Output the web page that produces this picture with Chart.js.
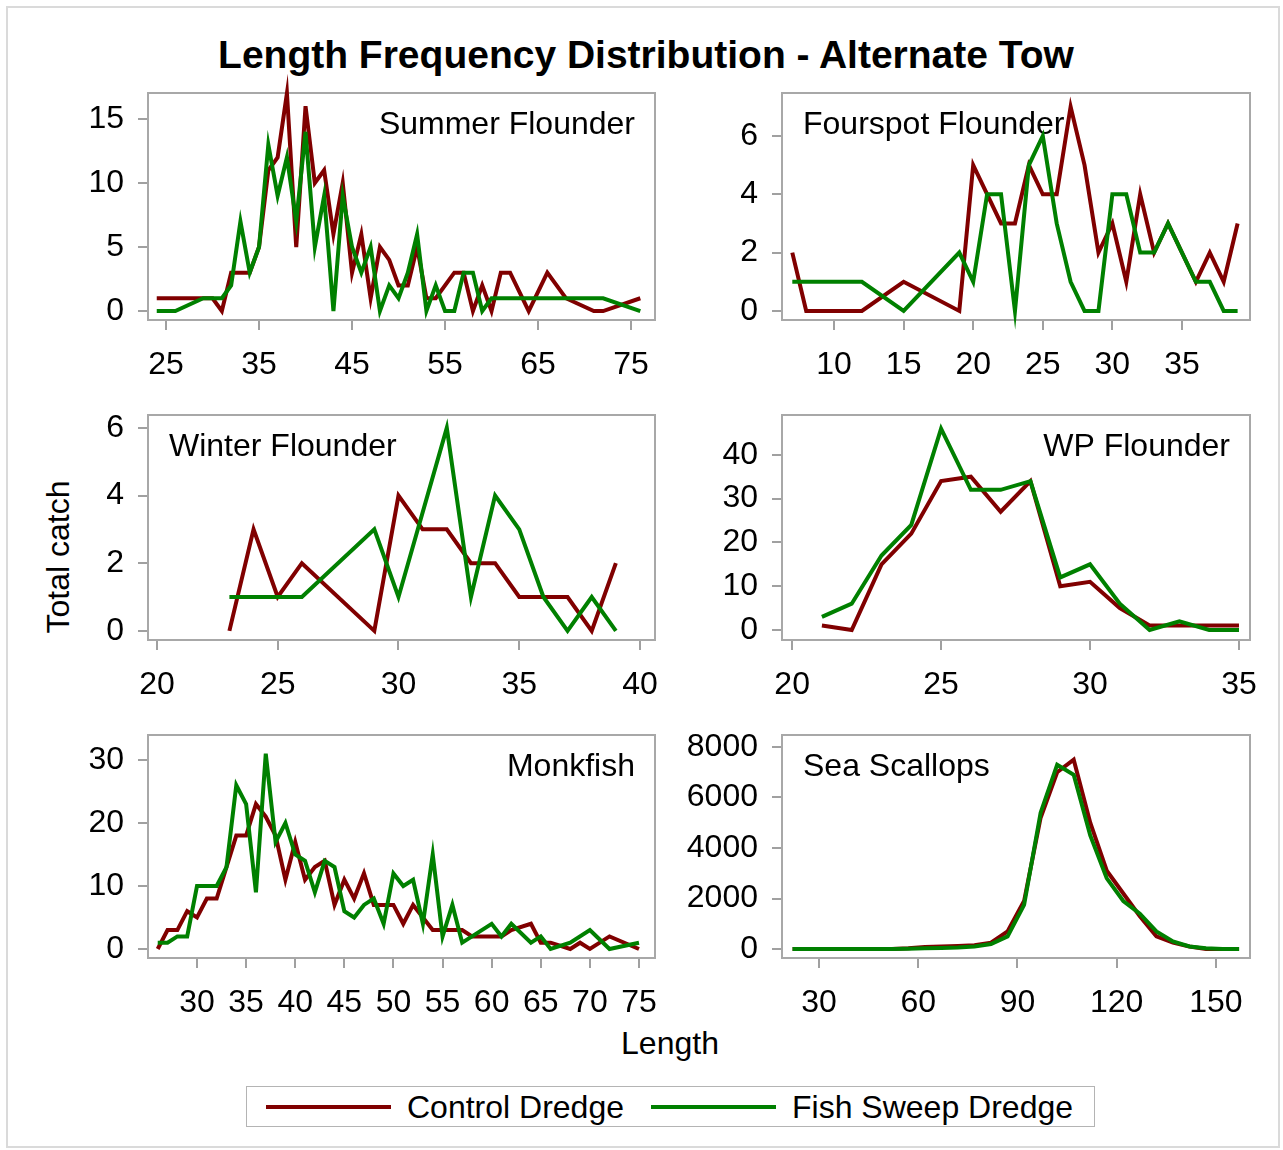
<!DOCTYPE html>
<html>
<head>
<meta charset="utf-8">
<script src="https://cdn.jsdelivr.net/npm/chart.js@4.4.1/dist/chart.umd.min.js"></script>
<style>
body { margin: 0; background: #fff; font-family: "Liberation Sans", Arial, sans-serif; }
#page { position: relative; width: 1283px; height: 1150px; overflow: hidden; background: #fff; }
#outer { position: absolute; left: 6px; top: 6px; width: 1274px; height: 1142px; border: 2px solid #dadada; box-sizing: border-box; }
#page canvas { position: absolute; }
.txt { position: absolute; white-space: nowrap; color: #000; }
#title { left: 0; width: 1292px; top: 35px; text-align: center; font-weight: bold; font-size: 39px; line-height: 39px; }
#ylab { left: 58px; top: 557px; font-size: 32px; line-height: 32px; transform: translate(-50%, -50%) rotate(-90deg); }
#xlab { left: 0; width: 1340px; top: 1027px; text-align: center; font-size: 32px; line-height: 32px; }
#legend { position: absolute; left: 246px; top: 1086px; width: 849px; height: 41px; border: 1px solid #b4b4b4; box-sizing: border-box; }
#legend .sw { position: absolute; top: 18px; width: 125px; height: 4px; }
#legend .txt { top: 4px; font-size: 32px; line-height: 32px; }
</style>
</head>
<body>
<div id="page">
  <div id="outer"></div>
  <div id="title" class="txt">Length Frequency Distribution - Alternate Tow</div>
  <div id="ylab" class="txt">Total catch</div>
  <div id="xlab" class="txt">Length</div>
  <div id="legend">
    <div class="sw" style="left:19px;background:#800000"></div>
    <div class="txt" style="left:160px">Control Dredge</div>
    <div class="sw" style="left:404px;background:#008000"></div>
    <div class="txt" style="left:545px">Fish Sweep Dredge</div>
  </div>
</div>
<script>
// ---- data ----
// Summer Flounder
const sfCtlLen   = [24,30,31,32,34,35,36,37,38,39,40,41,42,43,44,45,46,47,48,49,50,51,52,53,54,56,57,58,59,60,61,62,64,66,68,71,72,76];
const sfCtlCatch = [1,1,0,3,3,5,11,12,17,5,16,10,11,6,10,3,6,1,5,4,2,2,5,1,1,3,3,0,2,0,3,3,0,3,1,0,0,1];
const sfSwpLen   = [24,26,29,31,32,33,34,35,36,37,38,39,40,41,42,43,44,45,46,47,48,49,50,51,52,53,54,55,56,57,58,59,60,72,76];
const sfSwpCatch = [0,0,1,1,2,7,3,5,13,9,12,7,14,5,9,0,9,5,3,5,0,2,1,3,6,0,2,0,0,3,3,0,1,1,0];
const sfXTicks = [25,35,45,55,65,75];
const sfYTicks = [0,5,10,15];

// Fourspot Flounder
const fsCtlLen   = [7,8,12,15,19,20,22,23,24,25,26,27,28,29,30,31,32,33,34,36,37,38,39];
const fsCtlCatch = [2,0,0,1,0,5,3,3,5,4,4,7,5,2,3,1,4,2,3,1,2,1,3];
const fsSwpLen   = [7,12,15,19,20,21,22,23,24,25,26,27,28,29,30,31,32,33,34,35,36,37,38,39];
const fsSwpCatch = [1,1,0,2,1,4,4,0,5,6,3,1,0,0,4,4,2,2,3,2,1,1,0,0];
const fsXTicks = [10,15,20,25,30,35];
const fsYTicks = [0,2,4,6];

// Winter Flounder
const wfCtlLen   = [23,24,25,26,29,30,31,32,33,34,35,36,37,38,39];
const wfCtlCatch = [0,3,1,2,0,4,3,3,2,2,1,1,1,0,2];
const wfSwpLen   = [23,26,29,30,32,33,34,35,36,37,38,39];
const wfSwpCatch = [1,1,3,1,6,1,4,3,1,0,1,0];
const wfXTicks = [20,25,30,35,40];
const wfYTicks = [0,2,4,6];

// WP Flounder
const wpLen      = [21,22,23,24,25,26,27,28,29,30,31,32,33,34,35];
const wpCtlCatch = [1,0,15,22,34,35,27,34,10,11,5,1,1,1,1];
const wpSwpCatch = [3,6,17,24,46,32,32,34,12,15,6,0,2,0,0];
const wpXTicks = [20,25,30,35];
const wpYTicks = [0,10,20,30,40];

// Monkfish
const mkCtlLen   = [26,27,28,29,30,31,32,33,34,35,36,37,38,39,40,41,42,43,44,45,46,47,48,50,51,52,53,54,57,58,61,62,64,65,66,68,69,70,72,75];
const mkCtlCatch = [0,3,3,6,5,8,8,13,18,18,23,21,18,11,17,11,13,14,7,11,8,12,7,7,4,7,5,3,3,2,2,3,4,1,1,0,1,0,2,0];
const mkSwpLen   = [26,27,28,29,30,31,32,33,34,35,36,37,38,39,40,41,42,43,44,45,46,47,48,49,50,51,52,53,54,55,56,57,60,61,62,64,65,66,68,70,72,75];
const mkSwpCatch = [1,1,2,2,10,10,10,13,26,23,9,31,17,20,15,14,9,14,13,6,5,7,8,4,12,10,11,4,15,2,7,1,4,2,4,1,2,0,1,3,0,1];
const mkXTicks = [30,35,40,45,50,55,60,65,70,75];
const mkYTicks = [0,10,20,30];

// Sea Scallops
const ssLen      = [22,27,32,37,42,47,52,57,62,67,72,77,82,87,92,97,102,107,112,117,122,127,132,137,142,147,152,157];
const ssCtlCatch = [0,0,0,0,0,0,0,30,80,100,120,150,250,700,1900,5200,7000,7500,5000,3100,2200,1300,500,250,100,0,0,0];
const ssSwpCatch = [0,0,0,0,0,0,0,10,30,40,60,100,200,500,1750,5400,7300,6900,4500,2800,1900,1400,700,300,100,30,0,0];
const ssXTicks = [30,60,90,120,150];
const ssYTicks = [0,2000,4000,6000,8000];

const CTL_COLOR = '#800000';
const SWP_COLOR = '#008000';
const FONT = '"Liberation Sans", Arial, sans-serif';

Chart.defaults.font.family = FONT;

function pts(len, catches) {
  return len.map((l, i) => ({ x: l, y: catches[i] }));
}

// frame round the plot area and the species name
const panelDecor = {
  id: 'panelDecor',
  beforeDatasetsDraw(chart, args, opts) {
    const a = chart.chartArea, ctx = chart.ctx;
    ctx.save();
    ctx.strokeStyle = '#a8a8a8';
    ctx.lineWidth = 2;
    ctx.strokeRect(a.left, a.top, a.right - a.left, a.bottom - a.top);
    ctx.font = '32px ' + FONT;
    ctx.fillStyle = '#000';
    ctx.textBaseline = 'alphabetic';
    if (opts.side === 'right') {
      ctx.textAlign = 'right';
      ctx.fillText(opts.label, a.right - 20, a.top + 41);
    } else {
      ctx.textAlign = 'left';
      ctx.fillText(opts.label, a.left + 21, a.top + 41);
    }
    ctx.restore();
  }
};

function axis(min, max, ticks, isX) {
  return {
    type: 'linear',
    min: min,
    max: max,
    afterBuildTicks: s => { s.ticks = ticks.map(v => ({ value: v })); },
    afterFit: s => { if (isX) s.height = 60; else s.width = 130; },
    border: { display: false },
    grid: { drawOnChartArea: false, drawTicks: true, tickLength: 10, color: '#a0a0a0', lineWidth: 2 },
    ticks: {
      color: '#000',
      font: { size: 32 },
      padding: isX ? 16 : 14,
      maxRotation: 0,
      autoSkip: false,
      callback: v => String(v)
    }
  };
}

function panel(box, xr, yr, xTicks, yTicks, label, side, ctl, swp) {
  const page = document.getElementById('page');
  const cv = document.createElement('canvas');
  const w = box[2] - box[0], h = box[3] - box[1];
  cv.width = w + 180;
  cv.height = h + 100;
  cv.style.left = (box[0] - 130) + 'px';
  cv.style.top = (box[1] - 40) + 'px';
  page.appendChild(cv);
  new Chart(cv, {
    type: 'line',
    data: {
      datasets: [
        { label: 'Control Dredge', data: ctl, borderColor: CTL_COLOR, borderWidth: 4, pointRadius: 0, tension: 0, order: 1, clip: false },
        { label: 'Fish Sweep Dredge', data: swp, borderColor: SWP_COLOR, borderWidth: 4, pointRadius: 0, tension: 0, order: 0, clip: false }
      ]
    },
    options: {
      responsive: false,
      animation: false,
      devicePixelRatio: 1,
      layout: { padding: { top: 40, right: 50, left: 0, bottom: 0 } },
      plugins: {
        legend: { display: false },
        tooltip: { enabled: false },
        panelDecor: { label: label, side: side }
      },
      scales: {
        x: axis(xr[0], xr[1], xTicks, true),
        y: axis(yr[0], yr[1], yTicks, false)
      }
    },
    plugins: [panelDecor]
  });
}

panel([148, 93, 655, 320], [23.06, 77.58], [-0.70, 17.03], sfXTicks, sfYTicks, 'Summer Flounder', 'right',
  pts(sfCtlLen, sfCtlCatch), pts(sfSwpLen, sfSwpCatch));
panel([782, 93, 1250, 320], [6.26, 39.89], [-0.31, 7.47], fsXTicks, fsYTicks, 'Fourspot Flounder', 'left',
  pts(fsCtlLen, fsCtlCatch), pts(fsSwpLen, fsSwpCatch));
panel([148, 415, 655, 640], [19.63, 40.62], [-0.27, 6.38], wfXTicks, wfYTicks, 'Winter Flounder', 'left',
  pts(wfCtlLen, wfCtlCatch), pts(wfSwpLen, wfSwpCatch));
panel([782, 415, 1250, 640], [19.66, 35.37], [-2.29, 49.1], wpXTicks, wpYTicks, 'WP Flounder', 'right',
  pts(wpLen, wpCtlCatch), pts(wpLen, wpSwpCatch));
panel([148, 735, 655, 958], [25.01, 76.63], [-1.43, 33.97], mkXTicks, mkYTicks, 'Monkfish', 'right',
  pts(mkCtlLen, mkCtlCatch), pts(mkSwpLen, mkSwpCatch));
panel([782, 735, 1250, 958], [18.81, 160.3], [-356, 8475], ssXTicks, ssYTicks, 'Sea Scallops', 'left',
  pts(ssLen, ssCtlCatch), pts(ssLen, ssSwpCatch));
</script>
</body>
</html>
